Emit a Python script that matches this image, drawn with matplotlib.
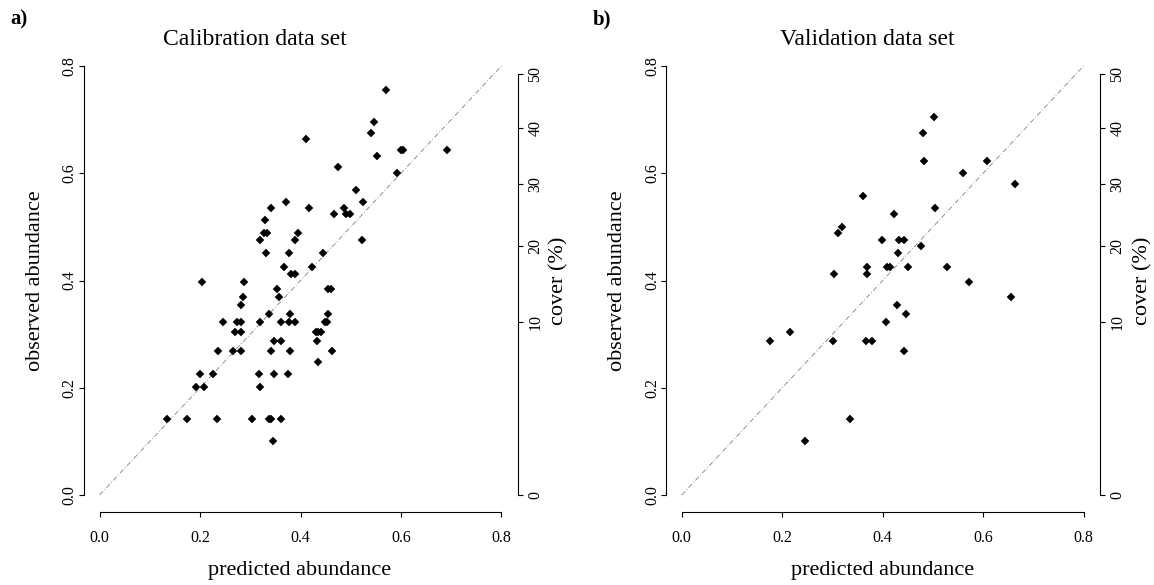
import numpy as np
import matplotlib
matplotlib.use("Agg")
import matplotlib.pyplot as plt

# observed cover classes (%) and predicted abundance
cal_pred = [0.571, 0.547, 0.540, 0.411, 0.601, 0.604, 0.692, 0.552, 0.474, 0.593,
            0.511, 0.371, 0.524, 0.342, 0.416, 0.486, 0.467, 0.491, 0.499, 0.330,
            0.328, 0.333, 0.395, 0.319, 0.390, 0.523, 0.332, 0.377, 0.445, 0.367,
            0.422, 0.382, 0.390, 0.203, 0.288, 0.353, 0.455, 0.460, 0.286, 0.358,
            0.282, 0.337, 0.379, 0.454, 0.245, 0.274, 0.282, 0.319, 0.362, 0.377,
            0.390, 0.449, 0.453, 0.270, 0.282, 0.430, 0.434, 0.440, 0.348, 0.362,
            0.433, 0.235, 0.266, 0.282, 0.342, 0.379, 0.463, 0.435, 0.200, 0.226,
            0.317, 0.347, 0.375, 0.192, 0.207, 0.319, 0.134, 0.175, 0.233, 0.303,
            0.338, 0.341, 0.362, 0.346]
cal_cover = [47, 41, 39, 38, 36, 36, 36, 35, 33, 32,
             29, 27, 27, 26, 26, 26, 25, 25, 25, 24,
             22, 22, 22, 21, 21, 21, 19, 19, 19, 17,
             17, 16, 16, 15, 15, 14, 14, 14, 13, 13,
             12, 11, 11, 11, 10, 10, 10, 10, 10, 10,
             10, 10, 10, 9, 9, 9, 9, 9, 8, 8,
             8, 7, 7, 7, 7, 7, 7, 6, 5, 5,
             5, 5, 5, 4, 4, 4, 2, 2, 2, 2,
             2, 2, 2, 1]

val_pred = [0.502, 0.481, 0.482, 0.608, 0.559, 0.663, 0.361, 0.505, 0.423, 0.318,
            0.311, 0.398, 0.432, 0.442, 0.430, 0.477, 0.368, 0.409, 0.414, 0.450,
            0.529, 0.304, 0.368, 0.571, 0.655, 0.429, 0.447, 0.407, 0.216, 0.175,
            0.301, 0.367, 0.379, 0.442, 0.334, 0.246]
val_cover = [42, 39, 34, 34, 32, 30, 28, 26, 25, 23,
             22, 21, 21, 21, 19, 20, 17, 17, 17, 17,
             17, 16, 16, 15, 13, 12, 11, 10, 9, 8,
             8, 8, 8, 7, 2, 1]

cover_ticks = [0, 10, 20, 30, 40, 50]
abund_ticks = [0.0, 0.2, 0.4, 0.6, 0.8]

plt.rcParams['font.family'] = ['Liberation Serif', 'DejaVu Serif']

W, H = 1154, 585
fig = plt.figure(figsize=(W / 100, H / 100), dpi=100)


def asin_sqrt(c):
    return np.arcsin(np.sqrt(np.asarray(c) / 100.0))


def panel(left_px, pred, cover, title, letter, title_x, cover_x, ylab_x):
    ax = fig.add_axes([left_px / W, (H - 512.2) / H, 434 / W, 463.4 / H])
    lo, hi = -0.032, 0.832
    ax.set_xlim(lo, hi)
    ax.set_ylim(lo, hi)
    ax.plot([0, 0.8], [0, 0.8], color="#808080", lw=0.6,
            linestyle=(0, (6, 2.5, 1, 2.5)))
    ax.plot(pred, asin_sqrt(cover), linestyle="none", marker="D",
            ms=4.0, color="black", mec="black", mew=0.3)
    for s in ["top", "right"]:
        ax.spines[s].set_visible(False)
    ax.spines["left"].set_bounds(0, 0.8)
    ax.spines["bottom"].set_bounds(0, 0.8)
    ax.set_xticks(abund_ticks)
    ax.set_yticks(abund_ticks)
    ax.set_xticklabels(["%.1f" % t for t in abund_ticks])
    ax.set_yticklabels(["%.1f" % t for t in abund_ticks], rotation=90, va="center")
    ax.tick_params(direction="out", length=3.6, width=0.8, labelsize=11.5)
    ax.tick_params(axis="x", pad=9.5)
    ax.tick_params(axis="y", pad=0.5)

    ax2 = ax.twinx()
    ax2.set_ylim(lo, hi)
    for s in ["top", "left", "bottom"]:
        ax2.spines[s].set_visible(False)
    ax2.spines["right"].set_bounds(0, asin_sqrt(50))
    ax2.set_yticks(asin_sqrt(cover_ticks))
    ax2.set_yticklabels([str(c) for c in cover_ticks], rotation=90, va="center")
    ax2.tick_params(direction="out", length=3.6, width=0.8, labelsize=11.5, pad=3.5)

    cx = left_px + 16 + 200.5
    fig.text(cx / W, 1 - 575 / H, "predicted abundance", ha="center",
             va="baseline", fontsize=16)
    fig.text(ylab_x / W, 1 - 280.5 / H, "observed abundance", ha="center",
             va="center", rotation=90, fontsize=16)
    fig.text(cover_x / W, 1 - 280.5 / H, "cover (%)", ha="center",
             va="center", rotation=90, fontsize=16)
    fig.text(title_x / W, 1 - 45 / H, title, ha="center", va="baseline",
             fontsize=17)
    fig.text((left_px - 73) / W, 1 - 24 / H, letter, ha="left", va="baseline",
             fontsize=15, fontweight="bold")


panel(83.5, cal_pred, cal_cover, "Calibration data set", "a)", 255, 559, 36)
panel(665.7, val_pred, val_cover, "Validation data set", "b)", 867, 1143, 618)

fig.savefig("out.png", dpi=100)
